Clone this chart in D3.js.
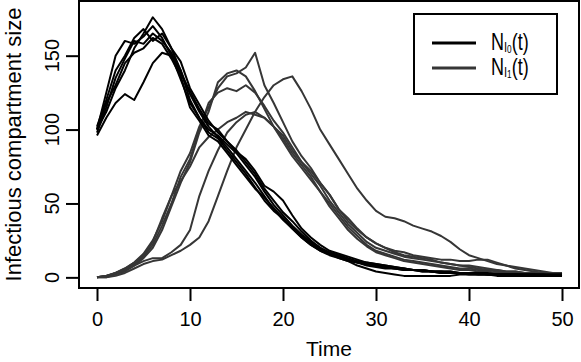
<!DOCTYPE html>
<html lang="en">
<head>
<meta charset="UTF-8">
<title>Infectious compartment size</title>
<script src="https://d3js.org/d3.v7.min.js"></script>
<style>
body { margin: 0; background: #fff; }
svg text { font-family: "Liberation Sans", Arial, Helvetica, sans-serif; fill: #000; }
</style>
</head>
<body>
<div class="chart"></div>
<script>
// time grid of the trajectories
var times = [0,1,2,3,4,5,6,7,8,9,10,11,12,13,14,15,16,17,18,19,20,
             21,22,23,24,25,26,27,28,29,30,31,32,33,34,35,36,37,38,39,40,
             41,42,43,44,45,46,47,48,49,50];

// N_I0(t) runs (black)
var i0_a = [100,112,128,140,155,165,176,168,155,140,124,112,102,95,88,80,72,64,55,46,39,33,27,22,18,16,14,12,10,9,8,7,6,6,5,5,4,4,3,3,3,3,2,2,2,2,2,2,1,1,1];
var i0_b = [100,125,150,160,158,163,170,162,150,134,118,108,100,96,90,84,76,68,58,49,42,35,29,24,20,17,15,13,11,10,9,8,7,6,5,5,4,4,4,3,3,3,3,2,2,2,2,2,2,2,2];
var i0_c = [96,108,118,124,120,132,145,152,150,138,126,114,104,100,92,86,78,70,60,52,44,38,31,25,20,16,14,12,10,8,7,6,6,5,5,4,4,3,3,3,3,2,2,2,2,2,1,1,1,1,1];
var i0_d = [98,115,135,148,160,158,165,160,152,140,120,108,98,94,86,78,70,61,52,45,40,34,28,23,19,16,13,11,8,6,4,3,2,1,1,1,1,1,1,2,2,2,2,1,1,1,1,1,1,1,1];
var i0_e = [102,120,140,150,162,168,160,165,155,146,128,117,106,98,92,85,80,72,62,58,52,42,33,27,22,18,16,14,12,10,9,8,7,6,5,5,4,4,4,3,3,3,2,2,2,2,2,2,2,1,1];
var i0_f = [100,118,130,145,152,155,162,158,148,136,115,106,96,92,84,76,68,60,54,47,40,33,27,22,18,15,13,11,10,9,8,7,6,5,5,4,4,3,3,3,2,2,2,2,2,2,2,2,2,2,2];

// N_I1(t) runs (dark grey)
var i1_a = [0,1,3,6,10,16,25,38,55,72,84,102,115,128,136,138,142,152,130,118,105,92,82,74,64,56,46,40,33,27,23,20,17,15,14,13,12,10,9,8,7,6,5,5,4,4,3,3,2,2,2];
var i1_b = [0,1,2,5,9,14,22,35,50,68,80,100,118,125,128,126,130,125,116,106,98,88,78,70,62,52,44,36,30,24,20,18,16,14,13,12,11,10,9,8,8,7,6,5,4,4,3,3,2,2,2];
var i1_c = [0,0,2,4,8,13,20,32,48,64,78,98,112,132,138,140,136,126,114,102,92,82,74,66,58,50,42,34,28,22,18,16,14,12,11,10,9,8,7,6,6,5,5,4,3,3,3,2,2,2,1];
var i1_d = [0,1,3,6,10,15,24,40,55,65,75,88,95,100,105,108,112,110,108,102,96,86,78,72,64,56,46,38,32,27,23,20,18,17,15,14,13,12,12,11,11,12,12,10,8,6,5,4,3,3,2];
var i1_e = [0,0,1,3,6,9,11,12,15,18,22,27,38,55,72,88,100,112,122,130,134,136,126,114,100,90,80,70,60,52,45,41,40,38,35,33,31,28,24,19,15,13,11,9,8,7,6,5,4,3,3];
var i1_f = [0,1,3,5,8,11,13,13,17,22,32,55,72,86,98,105,110,112,108,102,94,84,76,68,58,48,40,32,26,21,17,15,13,11,10,9,8,7,6,5,5,4,4,3,3,3,2,2,2,2,2];

var xTicks = [0, 10, 20, 30, 40, 50];
var yTicks = [0, 50, 100, 150];
var legendLabels = ["0", "1"];

var W = 581, H = 362;
var plot = {left: 79, right: 579, top: 1, bottom: 288};

var svg = d3.select(".chart").append("svg")
    .attr("width", W)
    .attr("height", H);

// R style: 4% padding on both axes
var x = d3.scaleLinear().domain([-2, 52]).range([78.4, 580.6]);
var y = d3.scaleLinear().domain([-7.2, 187]).range([288, 1]);

var line = d3.line()
    .x(function(d, i) { return x(times[i]); })
    .y(function(d) { return y(d); });

var grey = "#363636";

svg.append("g")
  .selectAll("path")
  .data([i1_a, i1_b, i1_c, i1_d, i1_e, i1_f])
  .enter().append("path")
    .attr("d", line)
    .attr("fill", "none")
    .attr("stroke", grey)
    .attr("stroke-width", 2)
    .attr("stroke-linejoin", "round");

svg.append("g")
  .selectAll("path")
  .data([i0_a, i0_b, i0_c, i0_d, i0_e, i0_f])
  .enter().append("path")
    .attr("d", line)
    .attr("fill", "none")
    .attr("stroke", "#000")
    .attr("stroke-width", 2)
    .attr("stroke-linejoin", "round");

// box
svg.append("rect")
    .attr("x", plot.left)
    .attr("y", plot.top)
    .attr("width", plot.right - plot.left)
    .attr("height", plot.bottom - plot.top)
    .attr("fill", "none")
    .attr("stroke", "#000")
    .attr("stroke-width", 2);

// x axis
var gx = svg.append("g")
    .attr("transform", "translate(0," + plot.bottom + ")")
    .call(d3.axisBottom(x).tickValues(xTicks).tickSize(13).tickPadding(11));
gx.select(".domain").remove();
gx.selectAll(".tick line").attr("stroke-width", 2);
gx.selectAll(".tick text")
    .style("font-size", "20px")
    .style("font-family", "'Liberation Sans', Arial, sans-serif");

// y axis
var gy = svg.append("g")
    .attr("transform", "translate(" + plot.left + ",0)")
    .call(d3.axisLeft(y).tickValues(yTicks).tickSize(13).tickFormat(""));
gy.select(".domain").remove();
gy.selectAll(".tick line").attr("stroke-width", 2);

svg.append("g")
  .selectAll("text")
  .data(yTicks)
  .enter().append("text")
    .attr("transform", function(d) { return "translate(59," + y(d) + ") rotate(-90)"; })
    .attr("text-anchor", "middle")
    .style("font-size", "20px")
    .text(function(d) { return d; });

// axis titles
svg.append("text")
    .attr("x", (plot.left + plot.right) / 2)
    .attr("y", 356)
    .attr("text-anchor", "middle")
    .style("font-size", "21px")
    .text("Time");

svg.append("text")
    .attr("transform", "translate(21," + ((plot.top + plot.bottom) / 2) + ") rotate(-90)")
    .attr("text-anchor", "middle")
    .style("font-size", "22px")
    .text("Infectious compartment size");

// legend
var lg = svg.append("g");
lg.append("rect")
    .attr("x", 414).attr("y", 14)
    .attr("width", 143).attr("height", 80)
    .attr("fill", "#fff")
    .attr("stroke", "#000")
    .attr("stroke-width", 2);

var item = lg.selectAll(".item")
    .data(legendLabels)
  .enter().append("g")
    .attr("transform", function(d, i) { return "translate(0," + (43 + i * 25) + ")"; });

item.append("line")
    .attr("x1", 432).attr("x2", 476)
    .attr("stroke", function(d, i) { return i === 0 ? "#000" : grey; })
    .attr("stroke-width", 3);

var lt = item.append("text")
    .attr("transform", "translate(491,7) scale(0.75,1)")
    .style("font-size", "24px");
lt.append("tspan").text("N");
lt.append("tspan").attr("dy", 2).style("font-size", "15px").text("I");
lt.append("tspan").attr("dy", 1).style("font-size", "11px").text(function(d) { return d; });
lt.append("tspan").attr("dy", -3).text("(t)");
</script>
</body>
</html>
